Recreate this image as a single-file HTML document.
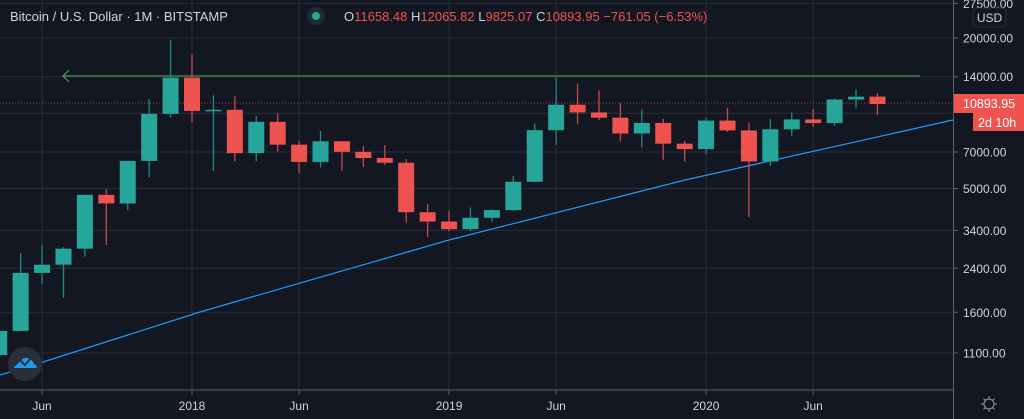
<!DOCTYPE html>
<html><head><meta charset="utf-8">
<style>
html,body{margin:0;padding:0;background:#131722;overflow:hidden}
svg{display:block;font-family:"Liberation Sans",sans-serif}
</style></head>
<body>
<svg id="chart" width="1024" height="419" viewBox="0 0 1024 419">
<rect x="0" y="0" width="1024" height="419" fill="#131722"/>
<g id="grid"></g>
<g id="xaxis"></g>
<g id="yaxis"></g>
<line x1="63" y1="76" x2="920" y2="76" stroke="#4caf50" stroke-width="1"/>
<polyline points="69,70 63,76 69,82" fill="none" stroke="#4caf50" stroke-width="1"/>
<polyline points="0,375 43,362 200,312 449,240 685,180 953,120" fill="none" stroke="#2196f3" stroke-width="1.3"/>
<g id="candles"></g>
<line x1="0" y1="103" x2="953" y2="103" stroke="#ef5350" stroke-width="1" stroke-dasharray="1,2" opacity="0.7"/>
<line x1="953.5" y1="0" x2="953.5" y2="419" stroke="#5d606b" stroke-width="1"/>
<line x1="0" y1="390" x2="953" y2="390" stroke="#5d606b" stroke-width="1"/>
<g font-size="13">
<text x="10" y="21" fill="#d1d4dc">Bitcoin / U.S. Dollar · 1M · BITSTAMP</text>
<circle cx="316" cy="16" r="9" fill="#1f2b33"/>
<circle cx="316" cy="16" r="4" fill="#26a69a"/>
<text x="344" y="21"><tspan fill="#d1d4dc">O</tspan><tspan fill="#ef5350">11658.48 </tspan><tspan fill="#d1d4dc">H</tspan><tspan fill="#ef5350">12065.82 </tspan><tspan fill="#d1d4dc">L</tspan><tspan fill="#ef5350">9825.07 </tspan><tspan fill="#d1d4dc">C</tspan><tspan fill="#ef5350">10893.95 −761.05 (−6.53%)</tspan></text>
</g>
<rect x="973" y="8" width="33" height="19" rx="3" fill="#131722" stroke="#2a2e39"/>
<text x="989.5" y="22" fill="#d1d4dc" font-size="12" text-anchor="middle">USD</text>
<rect x="954" y="94" width="70" height="19" fill="#ef5350"/>
<text x="963" y="108" fill="#fff" font-size="12.5">10893.95</text>
<rect x="973" y="113" width="51" height="18" fill="#ef5350"/>
<text x="978" y="127" fill="#fff" font-size="12.5">2d 10h</text>
<g stroke="#9598a1" fill="none">
<circle cx="989" cy="404" r="5"/>
<path d="M989 396v3M989 409v3M981 404h3M994 404h3M983.5 398.5l2 2M992.5 407.5l2 2M983.5 409.5l2-2M992.5 400.5l2-2"/>
</g>
<g>
<circle cx="25" cy="364" r="17" fill="#2a2e39"/>
<path d="M14 368 q0-6 6-6 q2-5 8-4 q5 1 6 6 q3 1 3 4 z" fill="#2196f3"/>
<polyline points="14,366 20,360 25,365 31,358 36,364" fill="none" stroke="#2a2e39" stroke-width="2"/>
</g>
</svg>
<script>
const months = ["2017-04","2017-05","2017-06","2017-07","2017-08","2017-09","2017-10","2017-11","2017-12","2018-01","2018-02","2018-03","2018-04","2018-05","2018-06","2018-07","2018-08","2018-09","2018-10","2018-11","2018-12","2019-01","2019-02","2019-03","2019-04","2019-05","2019-06","2019-07","2019-08","2019-09","2019-10","2019-11","2019-12","2020-01","2020-02","2020-03","2020-04","2020-05","2020-06","2020-07","2020-08","2020-09"];
const opens  = [1079,1348,2300,2480,2875,4718,4360,6450,9947,13880,10221,10324,6926,9241,7489,6390,7729,7011,6625,6340,4020,3690,3440,3820,4100,5320,8560,10820,10080,9600,8300,9150,7560,7190,9350,8540,6420,8630,9450,9140,11350,11658.48];
const highs  = [1350,2760,2980,2916,4736,4980,6470,11395,19666,17176,11789,11710,9759,9994,7770,8500,7760,7400,7460,6560,4330,4070,4200,4130,5620,9100,13880,13150,12330,10950,10370,9500,7750,9580,10520,9190,9480,10080,10400,11460,12480,12065.82];
const lows   = [1061,1348,2076,1830,2672,2972,4110,5555,9600,9205,5873,6430,6430,7034,5764,6070,5880,6100,6200,3652,3200,3370,3370,3680,4080,5320,7480,9080,9400,7720,7300,6520,6420,6860,8420,3850,6150,8100,8830,8900,10520,9825.07];
const closes = [1348,2300,2480,2875,4718,4360,6450,9947,13880,10221,10324,6926,9241,7489,6390,7729,7011,6625,6340,4020,3690,3440,3820,4100,5320,8560,10820,10080,9600,8300,9150,7560,7190,9350,8540,6420,8630,9450,9140,11350,11650,10893.95];
const yTicks = [27500,20000,14000,7000,5000,3400,2400,1600,1100];
const yGridOnly = [10000];
const xTickLabels = ["Jun","2018","Jun","2019","Jun","2020","Jun"];
const xTickMonths = ["2017-06","2018-01","2018-06","2019-01","2019-06","2020-01","2020-06"];

const NS="http://www.w3.org/2000/svg";
function y(v){return 38+(Math.log(20000)-Math.log(v))*108.6;}
function x(i){return 192+(i-9)*21.42;}
function mk(tag,attrs,parent){const e=document.createElementNS(NS,tag);for(const k in attrs)e.setAttribute(k,attrs[k]);parent.appendChild(e);return e;}
const grid=document.getElementById('grid'),xa=document.getElementById('xaxis'),ya=document.getElementById('yaxis'),cg=document.getElementById('candles');

yTicks.concat(yGridOnly).forEach(v=>{
  const gl=mk('line',{x1:0,x2:953,y1:y(v),y2:y(v),stroke:'#2a2e39','stroke-width':1},grid);
  
  
});
yTicks.forEach(v=>{
  const tk=mk('line',{x1:953,x2:958,y1:y(v),y2:y(v),stroke:'#5d606b'},ya);
  
  
  const t=mk('text',{x:963,y:y(v)+4.5,fill:'#d1d4dc','font-size':12},ya);
  t.textContent=v.toFixed(2);
  
  
});
xTickMonths.forEach((m,k)=>{
  const xi=x(months.indexOf(m));
  const gl=mk('line',{x1:xi,x2:xi,y1:0,y2:390,stroke:'#2a2e39'},grid);
  
  
  const tk=mk('line',{x1:xi,x2:xi,y1:390,y2:395,stroke:'#5d606b'},xa);
  
  
  const t=mk('text',{x:xi,y:410,fill:'#d1d4dc','font-size':12,'text-anchor':'middle'},xa);
  t.textContent=xTickLabels[k];
  
  
});
months.forEach((m,i)=>{
  const up=closes[i]>=opens[i];
  const col=up?'#26a69a':'#ef5350';
  const cx=x(i);
  const g=mk('g',{},cg);
  
  
  mk('line',{x1:cx,x2:cx,y1:y(highs[i]),y2:y(lows[i]),stroke:up?'#1e8a80':'#c9484a','stroke-width':1.3},g);
  const top=y(Math.max(opens[i],closes[i])),bot=y(Math.min(opens[i],closes[i]));
  mk('rect',{x:cx-8,y:top,width:16,height:Math.max(1.5,bot-top),fill:col},g);
});
</script>
</body></html>
